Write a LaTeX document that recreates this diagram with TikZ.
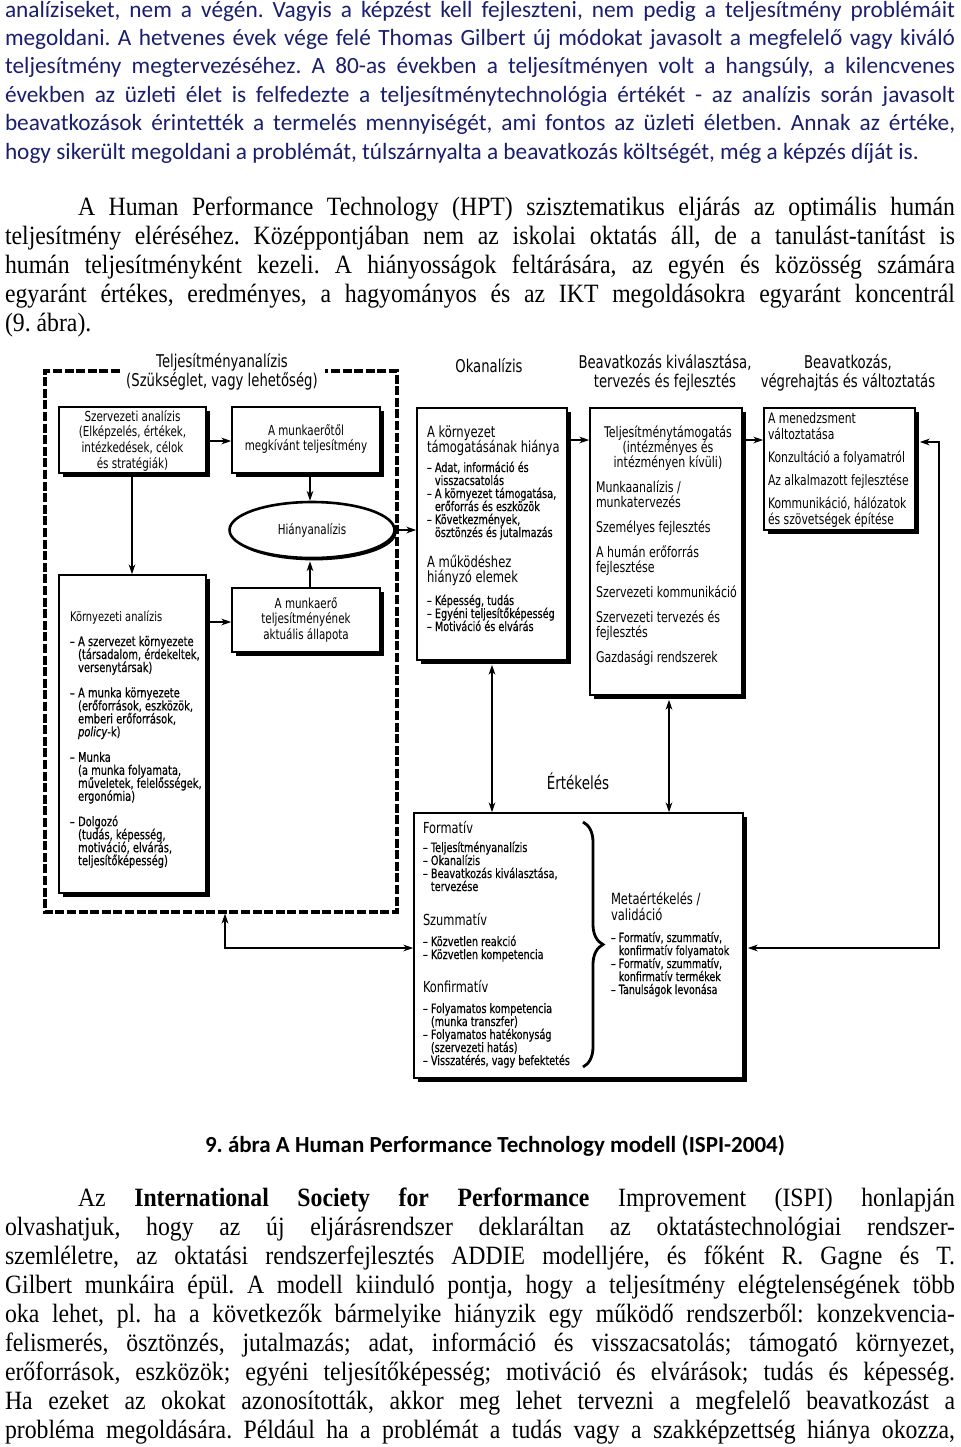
\documentclass[tikz,border=0pt]{standalone}
\usepackage{fontspec}
\setmainfont{Liberation Serif}
\newfontfamily\carl{Carlito}
\newfontfamily\tnr{Liberation Serif}[FakeStretch=0.9]
\newfontfamily\dfont{DejaVu Sans}[FakeStretch=0.75]
\newfontfamily\dfontb{DejaVu Sans}[FakeStretch=0.75,FakeBold=0.5]
\usetikzlibrary{arrows.meta,shapes.geometric,shadows,fit,decorations.pathreplacing}
\definecolor{navy}{RGB}{26,30,108}
\newcommand\blk[2]{\parbox[t]{#1}{\lineskiplimit=-50pt\relax#2}}
\newcommand\jl[1]{\makebox[475pt][s]{#1}}
\newcommand\jli[1]{\hspace*{36.5pt}\makebox[438.5pt][s]{#1}}
\newcommand\ph{\phantom{– }}
\begin{document}
\frenchspacing
\begin{tikzpicture}[x=0.5pt,y=-0.5pt,
  tx/.style={inner sep=0pt,outer sep=0pt},
  hd/.style={tx,font=\dfont\fontsize{8.8}{9.5}\selectfont},
  lb/.style={tx,font=\dfont\fontsize{6.9}{7.85}\selectfont},
  okh/.style={tx,font=\dfont\fontsize{7.7}{7.5}\selectfont},
  itm/.style={tx,font=\dfontb\fontsize{6.45}{6.5}\selectfont},
  mid/.style={tx,font=\dfont\fontsize{7.35}{7.5}\selectfont},
  eh/.style={tx,font=\dfont\fontsize{7.6}{8}\selectfont},
  rgt/.style={tx,font=\dfont\fontsize{7.2}{8}\selectfont},
  sbox/.style={draw,line width=0.8pt,fill=white,inner sep=0pt,
    drop shadow={shadow xshift=2pt,shadow yshift=-2pt,fill=black,opacity=1}},
  ell/.style={ellipse,draw,line width=1.3pt,fill=white,inner sep=0pt,
    minimum width=82.5pt,minimum height=28pt,font=\dfont\fontsize{6.9}{7.85}\selectfont,
    drop shadow={shadow xshift=1pt,shadow yshift=-1.2pt,fill=black,opacity=1}},
  arr/.style={line width=0.65pt,-{Stealth[length=5pt,width=3.4pt]}},
  darr/.style={line width=0.65pt,{Stealth[length=5pt,width=3.4pt]}-{Stealth[length=5pt,width=3.4pt]}},
  dashbox/.style={line width=1.6pt,dash pattern=on 4.5pt off 1.3pt},
  brc/.style={decorate,decoration={brace,amplitude=10pt},line width=1.4pt}
]
\useasboundingbox[fill=white] (0,0) rectangle (960,1447);

% ---------- top paragraph ----------
\node[tx,anchor=base west,font=\carl\fontsize{11.65}{14.2}\selectfont,text=navy] (p1) at (5,17) {\blk{476pt}{%
\jl{analíziseket, nem a végén. Vagyis a képzést kell fejleszteni, nem pedig a teljesítmény problémáit}\\
\jl{megoldani. A hetvenes évek vége felé Thomas Gilbert új módokat javasolt a megfelelő vagy kiváló}\\
\jl{teljesítmény megtervezéséhez. A 80-as években a teljesítményen volt a hangsúly, a kilencvenes}\\
\jl{években az üzleti élet is felfedezte a teljesítménytechnológia értékét - az analízis során javasolt}\\
\jl{beavatkozások érintették a termelés mennyiségét, ami fontos az üzleti életben. Annak az értéke,}\\
hogy sikerült megoldani a problémát, túlszárnyalta a beavatkozás költségét, még a képzés díját is.}};

% ---------- second paragraph ----------
\node[tx,anchor=base west,font=\tnr\fontsize{13.2}{14.5}\selectfont] (p2) at (5,215) {\blk{476pt}{%
\jli{A Human Performance Technology (HPT) szisztematikus eljárás az optimális humán}\\
\jl{teljesítmény eléréséhez. Középpontjában nem az iskolai oktatás áll, de a tanulást-tanítást is}\\
\jl{humán teljesítményként kezeli. A hiányosságok feltárására, az egyén és közösség számára}\\
\jl{egyaránt értékes, eredményes, a hagyományos és az IKT megoldásokra egyaránt koncentrál}\\
(9. ábra).}};

% ---------- diagram headings ----------
\node[hd,anchor=base] (h1) at (222,367) {\blk{200pt}{\centering Teljesítményanalízis\\(Szükséglet, vagy lehetőség)}};
\node[hd,anchor=base] (h2) at (489,372) {Okanalízis};
\node[hd,anchor=base] (h3) at (665,368) {\blk{200pt}{\centering Beavatkozás kiválasztása,\\tervezés és fejlesztés}};
\node[hd,anchor=base] (h4) at (848,368) {\blk{200pt}{\centering Beavatkozás,\\végrehajtás és változtatás}};

% ---------- dashed frame ----------
\node[tx,fit={(45,371) (397,912)}] (tbox) {};
\draw[dashbox] (120,371) -- (45,371) -- (45,912) -- (397,912) -- (397,371) -- (325,371);

% ---------- boxes ----------
\node[sbox,fit={(59,407) (206,473)}] (szerv) {};
\node[sbox,fit={(232,407) (380,473)}] (munk1) {};
\node[ell] (hiany) at (312,530) {Hiányanalízis};
\node[sbox,fit={(232,588) (380,652)}] (munk2) {};
\node[sbox,fit={(59,575) (206,893)}] (korny) {};
\node[sbox,fit={(417,408) (567,660)}] (okan) {};
\node[sbox,fit={(590,408) (742,695)}] (kiv) {};
\node[sbox,fit={(764,408) (915,530)}] (vegr) {};
\node[sbox,fit={(414,813) (743,1078)}] (ert) {};

% ---------- box texts ----------
\node[lb,anchor=base] (t1) at (szerv.center |- 0,421) {\blk{140pt}{\centering Szervezeti analízis\\(Elképzelés, értékek,\\intézkedések, célok\\és stratégiák)}};
\node[lb,anchor=base] (t2) at (munk1.center |- 0,435) {\blk{140pt}{\centering A munkaerőtől\\megkívánt teljesítmény}};
\node[lb,anchor=base] (t3) at (munk2.center |- 0,608) {\blk{140pt}{\centering A munkaerő\\teljesítményének\\aktuális állapota}};
\node[tx,anchor=base west,font=\dfont\fontsize{6.6}{7.85}\selectfont] (t4) at (70,621) {Környezeti analízis};
\node[tx,anchor=base west,font=\dfontb\fontsize{6.6}{6.5}\selectfont] (t5) at (70,646) {\blk{150pt}{\raggedright
– A szervezet környezete\\\ph(társadalom, érdekeltek,\\\ph versenytársak)\\[6.2pt]
– A munka környezete\\\ph(erőforrások, eszközök,\\\ph emberi erőforrások,\\\ph\textit{policy}-k)\\[6.2pt]
– Munka\\\ph(a munka folyamata,\\\ph műveletek, felelősségek,\\\ph ergonómia)\\[6.2pt]
– Dolgozó\\\ph(tudás, képesség,\\\ph motiváció, elvárás,\\\ph teljesítőképesség)}};

\node[okh,anchor=base west] (o1) at (427,437) {\blk{150pt}{\raggedright A környezet\\támogatásának hiánya}};
\node[itm,anchor=base west] (o2) at (427,472) {\blk{150pt}{\raggedright
– Adat, információ és\\\ph visszacsatolás\\– A környezet támogatása,\\\ph erőforrás és eszközök\\– Következmények,\\\ph ösztönzés és jutalmazás}};
\node[okh,anchor=base west] (o3) at (427,567) {\blk{150pt}{\raggedright A működéshez\\hiányzó elemek}};
\node[itm,anchor=base west] (o4) at (427,605) {\blk{150pt}{\raggedright
– Képesség, tudás\\– Egyéni teljesítőképesség\\– Motiváció és elvárás}};

\node[mid,anchor=base] (k1) at (668,437) {\blk{150pt}{\centering Teljesítménytámogatás\\(intézményes és\\intézményen kívüli)}};
\node[mid,anchor=base west] (k2) at (596,492) {\blk{150pt}{\raggedright
Munkaanalízis /\\munkatervezés\\[5pt]Személyes fejlesztés\\[5pt]A humán erőforrás\\fejlesztése\\[5pt]Szervezeti kommunikáció\\[5pt]Szervezeti tervezés és\\fejlesztés\\[5pt]Gazdasági rendszerek}};

\node[rgt,anchor=base west] (v1) at (768,423) {\blk{150pt}{\raggedright
A menedzsment\\változtatása\\[3.5pt]Konzultáció a folyamatról\\[3.5pt]Az alkalmazott fejlesztése\\[3.5pt]Kommunikáció, hálózatok\\és szövetségek építése}};

\node[tx,anchor=base,font=\dfont\fontsize{9}{10}\selectfont] (el) at (578,789) {Értékelés};

\node[eh,anchor=base west] (e1) at (423,833) {Formatív};
\node[itm,anchor=base west] (e2) at (423,852) {\blk{150pt}{\raggedright
– Teljesítményanalízis\\– Okanalízis\\– Beavatkozás kiválasztása,\\\ph tervezése}};
\node[eh,anchor=base west] (e3) at (423,925) {Szummatív};
\node[itm,anchor=base west] (e4) at (423,946) {\blk{150pt}{\raggedright
– Közvetlen reakció\\– Közvetlen kompetencia}};
\node[eh,anchor=base west] (e5) at (423,992) {Konfirmatív};
\node[itm,anchor=base west] (e6) at (423,1013) {\blk{150pt}{\raggedright
– Folyamatos kompetencia\\\ph(munka transzfer)\\– Folyamatos hatékonyság\\\ph(szervezeti hatás)\\– Visszatérés, vagy befektetés}};
\node[tx,anchor=base west,font=\dfont\fontsize{7.7}{8}\selectfont] (m1) at (611,904) {\blk{100pt}{\raggedright Metaértékelés /\\validáció}};
\node[tx,anchor=base west,font=\dfontb\fontsize{6.35}{6.5}\selectfont] (m2) at (611,942) {\blk{100pt}{\raggedright
– Formatív, szummatív,\\\ph konfirmatív folyamatok\\– Formatív, szummatív,\\\ph konfirmatív termékek\\– Tanulságok levonása}};
\draw[brc] (583,822) -- (583,1067);

% ---------- connectors ----------
\draw[arr] (szerv.east |- 0,441) -- (munk1.west |- 0,441);
\draw[arr] (munk1.south -| 310,0) -- (hiany.north -| 310,0);
\draw[arr] (munk2.north -| 310,0) -- ([yshift=-1pt]hiany.south -| 310,0);
\draw[arr] (szerv.south -| 132,0) -- (korny.north -| 132,0);
\draw[arr] (korny.east |- 0,622) -- (munk2.west |- 0,622);
\draw[arr] (hiany.east) -- (okan.west |- hiany.east);
\draw[arr] (okan.east |- 0,440) -- (kiv.west |- 0,440);
\draw[arr] (kiv.east |- 0,440) -- (vegr.west |- 0,440);
\draw[darr] ([yshift=-2pt]okan.south -| 492,0) -- (ert.north -| 492,0);
\draw[darr] ([yshift=-2pt]kiv.south -| 669,0) -- (ert.north -| 669,0);
\draw[darr] ([yshift=-0.8pt]tbox.south -| 225,0) |- (ert.west |- 0,948);
\draw[darr] ([xshift=2pt]ert.east |- 0,948) -- (939,948) -- (939,442) -- ([xshift=2pt]vegr.east |- 0,442);

% ---------- caption ----------
\node[tx,anchor=base,font=\carl\bfseries\fontsize{11.5}{14}\selectfont] (cap) at (495,1152) {9. ábra A Human Performance Technology modell (ISPI-2004)};

% ---------- third paragraph ----------
\node[tx,anchor=base west,font=\tnr\fontsize{13.2}{14.5}\selectfont] (p3) at (5,1206) {\blk{476pt}{%
\jli{Az \textbf{International Society for Performance} Improvement (ISPI) honlapján}\\
\jl{olvashatjuk, hogy az új eljárásrendszer deklaráltan az oktatástechnológiai rendszer-}\\
\jl{szemléletre, az oktatási rendszerfejlesztés ADDIE modelljére, és főként R. Gagne és T.}\\
\jl{Gilbert munkáira épül. A modell kiinduló pontja, hogy a teljesítmény elégtelenségének több}\\
\jl{oka lehet, pl. ha a következők bármelyike hiányzik egy működő rendszerből: konzekvencia-}\\
\jl{felismerés, ösztönzés, jutalmazás; adat, információ és visszacsatolás; támogató környezet,}\\
\jl{erőforrások, eszközök; egyéni teljesítőképesség; motiváció és elvárások; tudás és képesség.}\\
\jl{Ha ezeket az okokat azonosították, akkor meg lehet tervezni a megfelelő beavatkozást a}\\
\jl{probléma megoldására. Például ha a problémát a tudás vagy a szakképzettség hiánya okozza,}}};
\end{tikzpicture}
\end{document}
